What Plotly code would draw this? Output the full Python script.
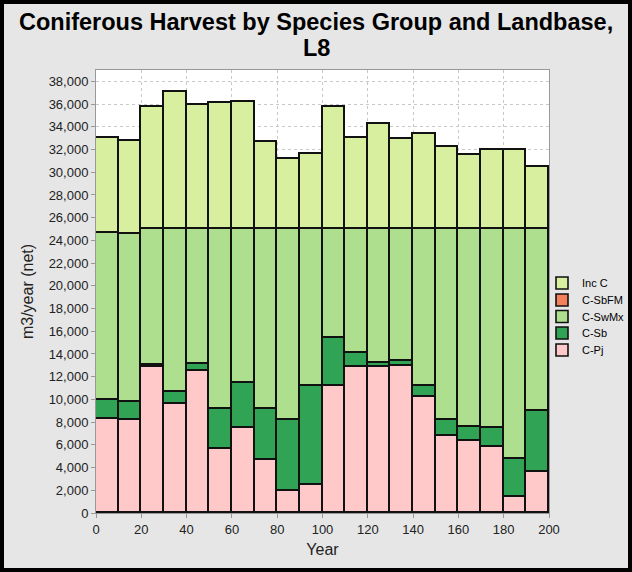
import plotly.graph_objects as go

# Harvest periods (start year of each 10-year period)
years = [0, 10, 20, 30, 40, 50, 60, 70, 80, 90, 100, 110, 120, 130, 140, 150, 160, 170, 180, 190]

# Harvest volumes by species group (m3/year net)
c_pj = [8300, 8180, 12840, 9620, 12490, 5600, 7450, 4660, 1900, 2490,
        11170, 12870, 12810, 12930, 10200, 6750, 6310, 5800, 1430, 3580]
c_sb = [1670, 1590, 180, 1020, 590, 3520, 3960, 4490, 6280, 8680,
        4280, 1210, 410, 470, 940, 1400, 1260, 1650, 3290, 5390]
c_swmx = [14680, 14750, 11980, 14360, 11920, 15880, 13590, 15850, 16820, 13830,
          9550, 10920, 11780, 11600, 13860, 16850, 17430, 17550, 20280, 16030]
c_sbfm = [0] * 20
inc_c = [8350, 8260, 10750, 12100, 10950, 11100, 11150, 7650, 6170, 6620,
         10750, 8020, 9220, 7930, 8370, 7230, 6550, 6990, 6930, 5500]

period = 10
x_centers = [y + period / 2 for y in years]

W, H = 632, 572
ml, mr, mt, mb = 96, 83, 70, 59
pw, ph = W - ml - mr, H - mt - mb

# (name, values, colour, legend id, legend row centre in px from top)
series = [
    ("C-Pj", c_pj, "#ffc9c9", "legend5", 350),
    ("C-Sb", c_sb, "#31a354", "legend4", 333),
    ("C-SwMx", c_swmx, "#addf8e", "legend3", 316.5),
    ("C-SbFM", c_sbfm, "#f4805c", "legend2", 300),
    ("Inc C", inc_c, "#d9efa0", "legend", 283),
]

fig = go.Figure()
legends = {}
for name, vals, color, leg, cy in series:
    fig.add_trace(go.Bar(
        x=x_centers, y=vals, width=period, name=name, legend=leg, showlegend=True,
        marker=dict(color=color, line=dict(color="#111111", width=1.6)),
    ))
    legends[leg] = dict(
        x=(542 - ml) / pw, xanchor="left",
        y=1 - (cy - mt) / ph, yanchor="middle",
        bgcolor="rgba(0,0,0,0)", borderwidth=0,
        font=dict(size=11, color="#000000"),
    )

grid = dict(showgrid=True, gridcolor="#c8c8c8", griddash="3px,3px", gridwidth=1,
            showline=True, linecolor="#999999", linewidth=1, mirror=True,
            ticks="outside", ticklen=4, tickcolor="#999999", zeroline=False,
            tickfont=dict(size=13))

title_font = dict(size=23.5, color="#000000")


def title_line(text, baseline_px):
    # one line of the chart heading, placed by its baseline position
    return dict(
        text="<b>" + text + "</b>", xref="paper", yref="paper",
        x=(316 - ml) / pw, xanchor="center",
        y=1 + (mt - baseline_px) / ph, yanchor="bottom", yshift=-6,
        showarrow=False, font=title_font,
    )


fig.update_layout(
    width=W, height=H,
    margin=dict(l=ml, r=mr, t=mt, b=mb, autoexpand=False),
    barmode="stack", bargap=0, showlegend=True,
    paper_bgcolor="#e6e6e6", plot_bgcolor="#ffffff",
    font=dict(family="Liberation Sans, Arial, sans-serif", size=12, color="#222222"),
    xaxis=dict(range=[0, 200], tickmode="linear", tick0=0, dtick=20,
               title=dict(text="Year", font=dict(size=16), standoff=8), **grid),
    yaxis=dict(range=[0, 39000], tickmode="linear", tick0=0, dtick=2000, tickformat=",d",
               title=dict(text="m3/year (net)", font=dict(size=16), standoff=11), **grid),
    annotations=[
        title_line("Coniferous Harvest by Species Group and Landbase,", 31),
        title_line("L8", 57),
    ],
    shapes=[dict(
        type="rect", xref="paper", yref="paper",
        x0=(-ml + 2) / pw, x1=1 + (mr - 2) / pw,
        y0=(-mb + 2) / ph, y1=1 + (mt - 2) / ph,
        line=dict(color="#000000", width=4), layer="above",
    )],
    **legends,
)

fig.write_html("out.html")
